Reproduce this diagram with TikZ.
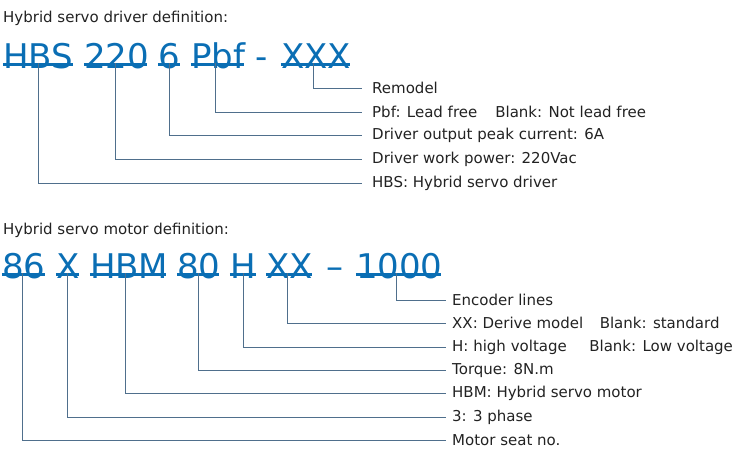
\documentclass[tikz,border=0pt]{standalone}
\usepackage{fontspec}
\setmainfont{DejaVu Sans}
\definecolor{codeblue}{HTML}{0A6EB4}
\definecolor{linegrey}{HTML}{4F6F8C}
\definecolor{txtgrey}{HTML}{222222}
\tikzset{
  seg/.style={text width=#1, align=center, inner sep=0, anchor=base, text=codeblue, font=\fontsize{34}{34}\selectfont},
  sep/.style={inner sep=0, anchor=base, text=codeblue, font=\fontsize{34}{34}\selectfont},
  uline/.style={draw=codeblue, line width=3pt},
  lab/.style={inner sep=0, anchor=west, text=txtgrey, font=\fontsize{15}{15}\selectfont},
  conn/.style={draw=linegrey, line width=0.8pt},
}
\begin{document}
\begin{tikzpicture}[x=1pt,y=-1pt]
\useasboundingbox (0,0) rectangle (750,466);
% driver
\node[lab] (t1) at (3,18) {Hybrid servo driver definition:};
\node[seg=70pt] (hbs) at (38,68) {HBS};
\node[seg=63pt] (pw) at (115.5,68) {220};
\node[seg=22pt] (cur) at (169,68) {6};
\node[seg=53pt] (pbf) at (217.5,68) {Pbf};
\node[sep] (d1) at (262,68) {-};
\node[seg=69pt] (rem) at (315.5,68) {XXX};
\foreach \n in {hbs,pw,cur,pbf,rem}
  \draw[uline] ([yshift=4]\n.base west) -- ([yshift=4]\n.base east);
\node[lab] (r1) at (372,88) {Remodel};
\node[lab] (r2) at (372,112) {Pbf: Lead free\hspace{1.2em}Blank: Not lead free};
\node[lab] (r3) at (372,135) {Driver output peak current: 6A};
\node[lab] (r4) at (372,159) {Driver work power: 220Vac};
\node[lab] (r5) at (372,183) {HBS: Hybrid servo driver};
\path[conn] ([xshift=-2,yshift=5]rem.base) |- ([xshift=-10]r1.west);
\path[conn] ([xshift=-2,yshift=5]pbf.base) |- ([xshift=-10]r2.west);
\path[conn] ([yshift=5]cur.base) |- ([xshift=-10]r3.west);
\path[conn] ([yshift=5]pw.base) |- ([xshift=-10]r4.west);
\path[conn] ([yshift=5]hbs.base) |- ([xshift=-10]r5.west);
% motor
\node[lab] (t2) at (3,230) {Hybrid servo motor definition:};
\node[seg=43pt] (seat) at (23.5,278) {86};
\node[seg=23pt] (ph) at (67.5,278) {X};
\node[seg=76pt] (hbm) at (128,278) {HBM};
\node[seg=42pt] (tq) at (198,278) {80};
\node[seg=26pt] (hv) at (243,278) {H};
\node[seg=46pt] (der) at (289,278) {XX};
\node[sep] (d2) at (335,278) {–};
\node[seg=85pt] (enc) at (398.5,278) {1000};
\foreach \n in {seat,ph,hbm,tq,hv,der,enc}
  \draw[uline] ([yshift=4]\n.base west) -- ([yshift=4]\n.base east);
\node[lab] (m1) at (452,300) {Encoder lines};
\node[lab] (m2) at (452,323) {XX: Derive model\hspace{1.1em}Blank: standard};
\node[lab] (m3) at (452,347) {H: high voltage\hspace{1.5em}Blank: Low voltage};
\node[lab] (m4) at (452,370) {Torque: 8N.m};
\node[lab] (m5) at (452,393) {HBM: Hybrid servo motor};
\node[lab] (m6) at (452,417) {3: 3 phase};
\node[lab] (m7) at (452,440) {Motor seat no.};
\path[conn] ([xshift=-2,yshift=5]enc.base) |- ([xshift=-6]m1.west);
\path[conn] ([xshift=-2,yshift=5]der.base) |- ([xshift=-6]m2.west);
\path[conn] ([yshift=5]hv.base) |- ([xshift=-6]m3.west);
\path[conn] ([yshift=5]tq.base) |- ([xshift=-6]m4.west);
\path[conn] ([xshift=-3,yshift=5]hbm.base) |- ([xshift=-6]m5.west);
\path[conn] ([yshift=5]ph.base) |- ([xshift=-6]m6.west);
\path[conn] ([xshift=-1,yshift=5]seat.base) |- ([xshift=-6]m7.west);
\end{tikzpicture}
\end{document}
